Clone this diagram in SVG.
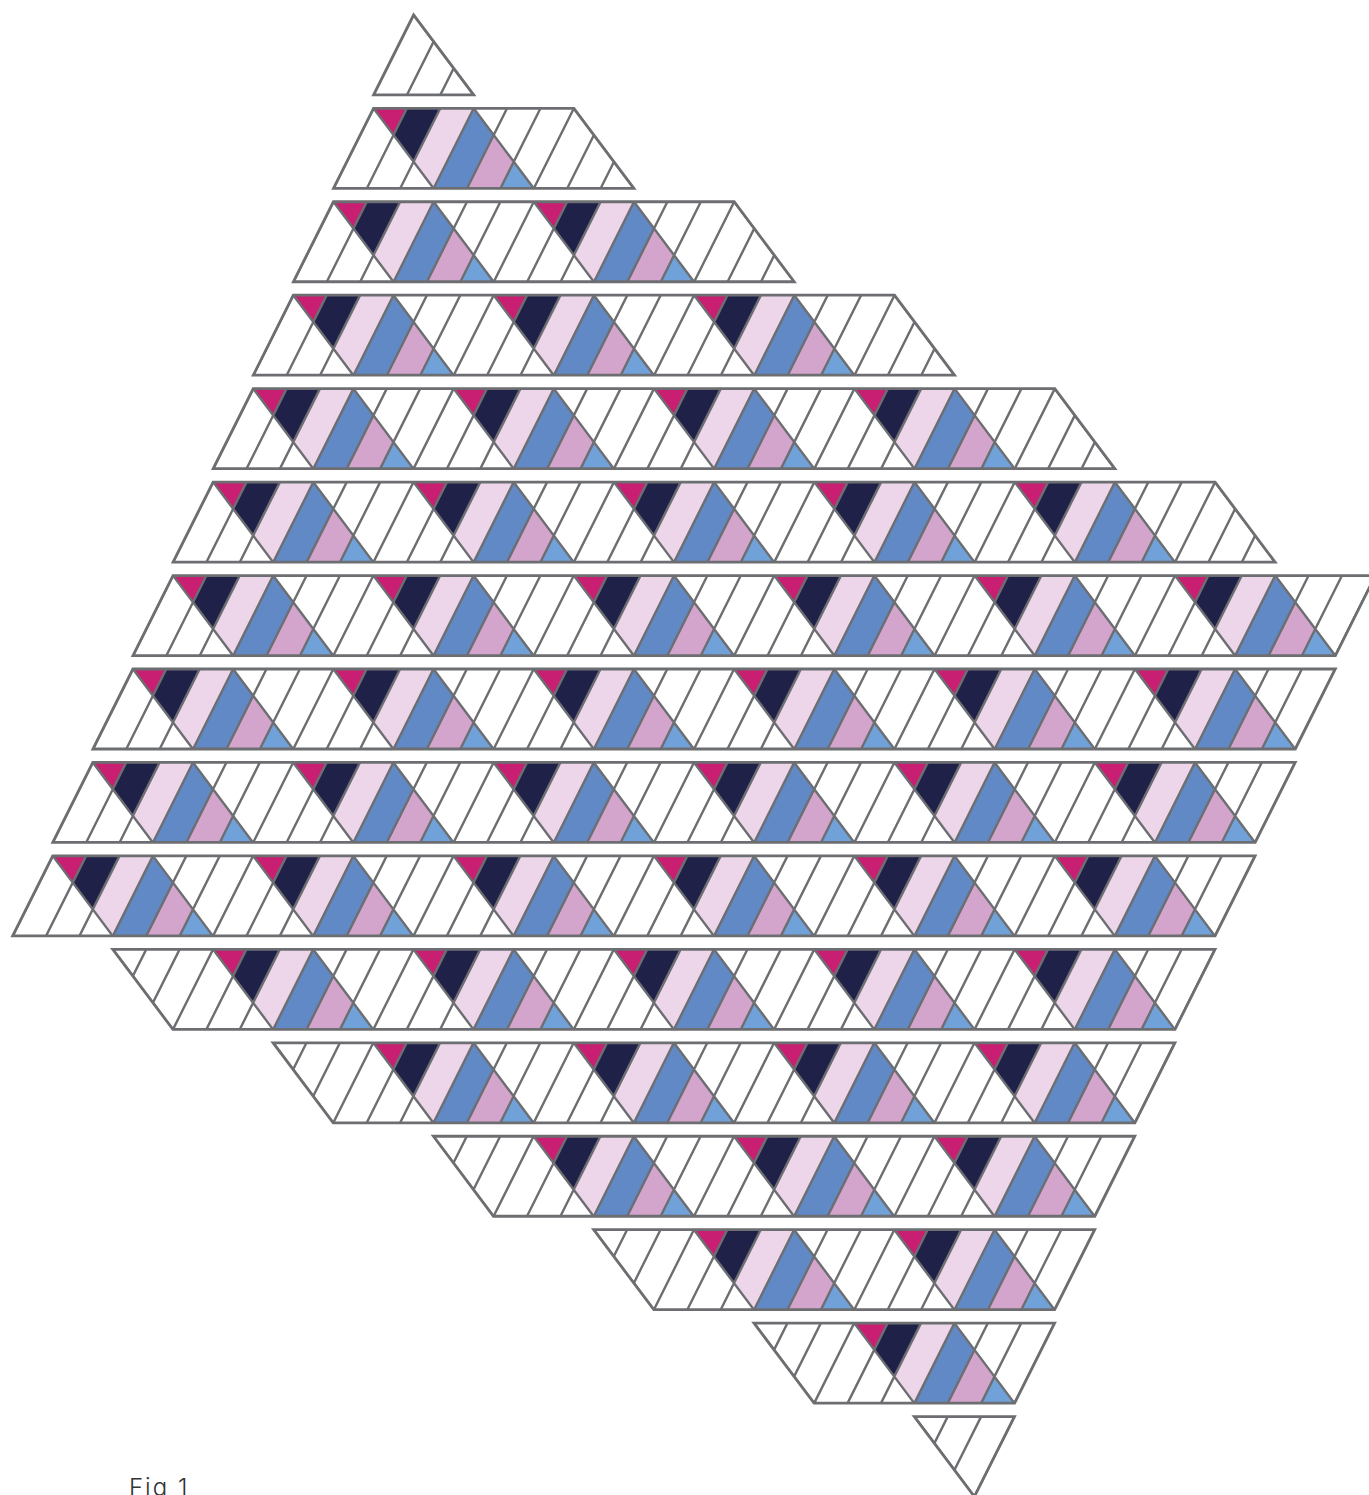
<svg xmlns="http://www.w3.org/2000/svg" xmlns:xlink="http://www.w3.org/1999/xlink" width="1369" height="1495" viewBox="0 0 1369 1495">
<style>
.pk{fill:#c91f72}.nv{fill:#1f2149}.lp{fill:#edd6ea}.bl{fill:#6089c6}.pu{fill:#d4a5cc}.lb{fill:#71a1d9}
.ln{fill:none;stroke:#6d6e71;stroke-width:2.4}
.ol{fill:none;stroke:#6d6e71;stroke-width:2.8;stroke-linejoin:miter}
.cap{font-family:"Inter","Liberation Sans",sans-serif;font-weight:300;font-size:24px;letter-spacing:2px;fill:#333}
</style>
<defs>
<g id="tile">
<polygon class="pk" points="0,0 33.4,0 20.04,26.72"/>
<polygon class="nv" points="33.4,0 66.8,0 40.08,53.44 20.04,26.72"/>
<polygon class="lp" points="66.8,0 100.2,0 60.1,80 40.08,53.44"/>
<polygon class="bl" points="100.2,0 120.24,26.72 93.6,80 60.1,80"/>
<polygon class="pu" points="120.24,26.72 140.28,53.44 127,80 93.6,80"/>
<polygon class="lb" points="140.28,53.44 160.3,80 127,80"/>
</g>
<path id="u" class="ln" d="M0 0l-40 80M33.4 0l-40 80M66.8 0l-40 80M0 0l60 80"/>
<g id="grid">
<use href="#u" x="0"/><use href="#u" x="100.2"/><use href="#u" x="200.4"/><use href="#u" x="300.6"/><use href="#u" x="400.8"/><use href="#u" x="501"/><use href="#u" x="601.2"/><use href="#u" x="701.4"/><use href="#u" x="801.6"/><use href="#u" x="901.8"/><use href="#u" x="1002"/><use href="#u" x="1102.2"/><use href="#u" x="1202.4"/><use href="#u" x="1302.6"/>
</g>
<clipPath id="c0"><polygon id="p0" points="0,0 60.1,80 -40,80"/></clipPath>
<clipPath id="c1"><polygon id="p1" points="0,0 200.4,0 260.4,80 -40,80"/></clipPath>
<clipPath id="c2"><polygon id="p2" points="0,0 400.8,0 460.8,80 -40,80"/></clipPath>
<clipPath id="c3"><polygon id="p3" points="0,0 601.2,0 661.2,80 -40,80"/></clipPath>
<clipPath id="c4"><polygon id="p4" points="0,0 801.6,0 861.6,80 -40,80"/></clipPath>
<clipPath id="c5"><polygon id="p5" points="0,0 1002,0 1062,80 -40,80"/></clipPath>
<clipPath id="c6"><polygon id="p6" points="0,0 1202.4,0 1162.4,80 -40,80"/></clipPath>
<clipPath id="c10"><polygon id="p10" points="0,0 1102.2,0 1062.2,80 60.1,80"/></clipPath>
<clipPath id="c11"><polygon id="p11" points="0,0 901.8,0 861.8,80 60.1,80"/></clipPath>
<clipPath id="c12"><polygon id="p12" points="0,0 701.4,0 661.4,80 60.1,80"/></clipPath>
<clipPath id="c13"><polygon id="p13" points="0,0 501,0 461,80 60.1,80"/></clipPath>
<clipPath id="c14"><polygon id="p14" points="0,0 300.6,0 260.6,80 60.1,80"/></clipPath>
<clipPath id="c15"><polygon id="p15" points="0,0 100.2,0 60.1,80"/></clipPath>
</defs>
<rect width="1369" height="1495" fill="#fff"/>
<g id="row-0" transform="translate(413.6 14.85)"><g clip-path="url(#c0)"><use href="#grid"/></g><use href="#p0" class="ol"/></g>
<g id="row-1" transform="translate(373.5 108.3)"><use href="#tile"/><g clip-path="url(#c1)"><use href="#grid"/></g><use href="#p1" class="ol"/></g>
<g id="row-2" transform="translate(333.4 201.75)"><use href="#tile"/><use href="#tile" x="200.4"/><g clip-path="url(#c2)"><use href="#grid"/></g><use href="#p2" class="ol"/></g>
<g id="row-3" transform="translate(293.3 295.2)"><use href="#tile"/><use href="#tile" x="200.4"/><use href="#tile" x="400.8"/><g clip-path="url(#c3)"><use href="#grid"/></g><use href="#p3" class="ol"/></g>
<g id="row-4" transform="translate(253.2 388.65)"><use href="#tile"/><use href="#tile" x="200.4"/><use href="#tile" x="400.8"/><use href="#tile" x="601.2"/><g clip-path="url(#c4)"><use href="#grid"/></g><use href="#p4" class="ol"/></g>
<g id="row-5" transform="translate(213.1 482.1)"><use href="#tile"/><use href="#tile" x="200.4"/><use href="#tile" x="400.8"/><use href="#tile" x="601.2"/><use href="#tile" x="801.6"/><g clip-path="url(#c5)"><use href="#grid"/></g><use href="#p5" class="ol"/></g>
<g id="row-6" transform="translate(173 575.55)"><use href="#tile"/><use href="#tile" x="200.4"/><use href="#tile" x="400.8"/><use href="#tile" x="601.2"/><use href="#tile" x="801.6"/><use href="#tile" x="1002"/><g clip-path="url(#c6)"><use href="#grid"/></g><use href="#p6" class="ol"/></g>
<g id="row-7" transform="translate(132.9 669)"><use href="#tile"/><use href="#tile" x="200.4"/><use href="#tile" x="400.8"/><use href="#tile" x="601.2"/><use href="#tile" x="801.6"/><use href="#tile" x="1002"/><g clip-path="url(#c6)"><use href="#grid"/></g><use href="#p6" class="ol"/></g>
<g id="row-8" transform="translate(92.8 762.45)"><use href="#tile"/><use href="#tile" x="200.4"/><use href="#tile" x="400.8"/><use href="#tile" x="601.2"/><use href="#tile" x="801.6"/><use href="#tile" x="1002"/><g clip-path="url(#c6)"><use href="#grid"/></g><use href="#p6" class="ol"/></g>
<g id="row-9" transform="translate(52.7 855.9)"><use href="#tile"/><use href="#tile" x="200.4"/><use href="#tile" x="400.8"/><use href="#tile" x="601.2"/><use href="#tile" x="801.6"/><use href="#tile" x="1002"/><g clip-path="url(#c6)"><use href="#grid"/></g><use href="#p6" class="ol"/></g>
<g id="row-10" transform="translate(112.8 949.35)"><use href="#tile" x="100.2"/><use href="#tile" x="300.6"/><use href="#tile" x="501"/><use href="#tile" x="701.4"/><use href="#tile" x="901.8"/><g clip-path="url(#c10)"><use href="#grid"/></g><use href="#p10" class="ol"/></g>
<g id="row-11" transform="translate(273.1 1042.8)"><use href="#tile" x="100.2"/><use href="#tile" x="300.6"/><use href="#tile" x="501"/><use href="#tile" x="701.4"/><g clip-path="url(#c11)"><use href="#grid"/></g><use href="#p11" class="ol"/></g>
<g id="row-12" transform="translate(433.4 1136.25)"><use href="#tile" x="100.2"/><use href="#tile" x="300.6"/><use href="#tile" x="501"/><g clip-path="url(#c12)"><use href="#grid"/></g><use href="#p12" class="ol"/></g>
<g id="row-13" transform="translate(593.7 1229.7)"><use href="#tile" x="100.2"/><use href="#tile" x="300.6"/><g clip-path="url(#c13)"><use href="#grid"/></g><use href="#p13" class="ol"/></g>
<g id="row-14" transform="translate(754 1323.15)"><use href="#tile" x="100.2"/><g clip-path="url(#c14)"><use href="#grid"/></g><use href="#p14" class="ol"/></g>
<g id="row-15" transform="translate(914.3 1416.6)"><g clip-path="url(#c15)"><use href="#grid"/></g><use href="#p15" class="ol"/></g>
<g id="connectors"/>
<text id="caption" class="cap" x="129" y="1496">Fig 1</text>
</svg>
